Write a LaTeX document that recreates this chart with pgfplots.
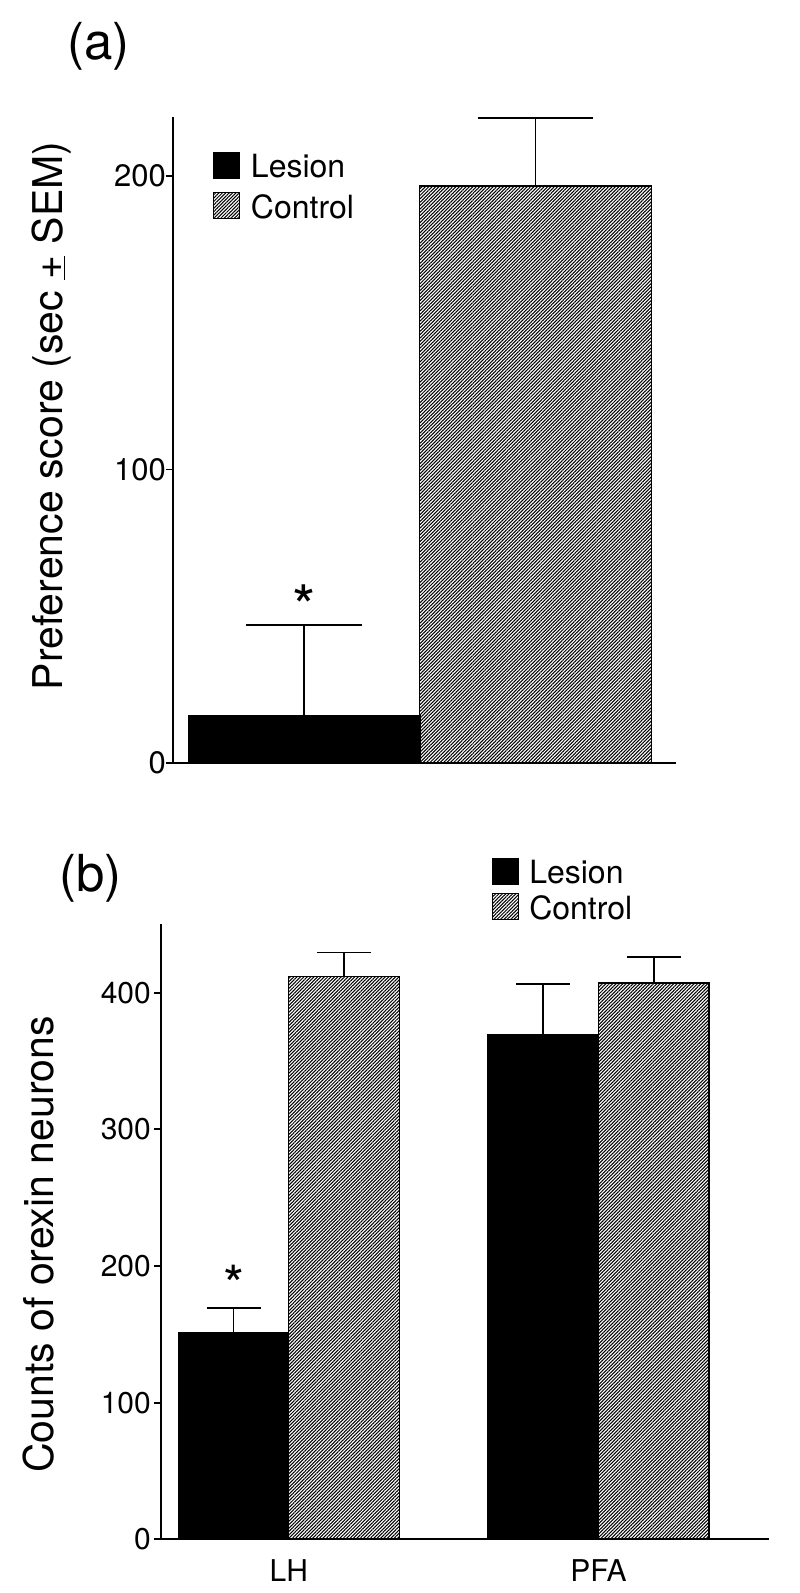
\documentclass[border=0pt]{standalone}
\usepackage{fontspec}
\setmainfont{TeX Gyre Heros}
\usepackage{pgfplots}
\pgfplotsset{compat=1.18}
\usetikzlibrary{patterns.meta}
\pgfplotsset{
  hatch/.style={draw=black, line width=1.3pt, pattern={Lines[angle=45,distance=2.4pt,line width=1.05pt]}, pattern color=black},
  solidbar/.style={draw=black, line width=1.3pt, fill=black},
  sqlegend/.style={legend image code/.code={\draw[##1, line width=1.1pt] (0pt,-12pt) rectangle (26pt,14pt);}},
}
\begin{document}
\begin{tikzpicture}[x=1pt,y=1pt]
\useasboundingbox (0,0) rectangle (800,1593);
\node[anchor=base west, font=\fontsize{51}{60}\selectfont, inner sep=0pt] at (67,1533.5) {(a)};
\node[anchor=base west, font=\fontsize{51}{60}\selectfont, inner sep=0pt] at (59,701) {(b)};

% ---------- panel (a) ----------
\begin{axis}[
  at={(173pt,830pt)}, anchor=south west, scale only axis,
  width=503pt, height=645.7pt,
  xmin=-0.5676, xmax=1.6076, ymin=0, ymax=220,
  clip=false,
  ybar,
  axis x line=bottom, axis y line=left,
  axis line style={-, line width=1.8pt, black},
  xtick=\empty, ytick={0,100,200},
  tick align=outside, major tick length=7pt,
  tick style={line width=1.8pt, black},
  /pgf/number format/assume math mode=true,
  yticklabel style={font=\fontsize{31}{36}\selectfont, inner sep=0pt},
  ylabel={Preference score (sec \underline{+} SEM)},
  ylabel style={at={(rel axis cs:-0.2193,0.5374)}, anchor=base, rotate=0, font=\fontsize{41}{48}\selectfont, inner sep=0pt},
  legend style={at={(0.0789,0.9467)}, anchor=north west, draw=none, fill=none,
    inner sep=0pt, row sep=13.3pt, column sep=11pt,
    font=\fontsize{32}{38}\selectfont, nodes={inner sep=0pt}},
  legend cell align=left,
]
\addplot[solidbar, sqlegend, bar width=231.3pt, bar shift=0pt,
  error bars/.cd, y dir=plus, y explicit,
  error bar style={line width=1.8pt, black},
  error mark options={rotate=90, line width=1.8pt, black, mark size=57.8pt}]
  coordinates {(0,16.1) +- (0,30.9)};
\addplot[hatch, sqlegend, bar width=231.3pt, bar shift=0pt,
  error bars/.cd, y dir=plus, y explicit,
  error bar style={line width=1.8pt, black},
  error mark options={rotate=90, line width=1.8pt, black, mark size=57.8pt}]
  coordinates {(1,196.6) +- (0,23.1)};
\legend{Lesion, Control}
\node[anchor=base, inner sep=0pt, font=\fontsize{60}{66}\selectfont] at (axis cs:0,56.6) {\raisebox{-0.53em}{*}};
\end{axis}

% ---------- panel (b) ----------
\begin{axis}[
  at={(161pt,53.7pt)}, anchor=south west, scale only axis,
  width=608pt, height=615pt,
  xmin=-0.4127, xmax=1.5505, ymin=0, ymax=450,
  clip=false,
  ybar,
  axis x line=bottom, axis y line=left,
  axis line style={-, line width=1.8pt, black},
  xtick={0,1}, xticklabels={LH,PFA},
  ytick={0,100,200,300,400},
  tick align=outside, major tick length=7pt,
  tick style={line width=1.8pt, black},
  xtick style={draw=none},
  /pgf/number format/assume math mode=true,
  yticklabel style={font=\fontsize{30}{36}\selectfont, inner sep=0pt, xshift=-3pt},
  xticklabel style={font=\fontsize{30}{36}\selectfont, inner sep=0pt, anchor=north, yshift=-13pt},
  ylabel={Counts of orexin neurons},
  ylabel style={at={(rel axis cs:-0.1771,0.4793)}, anchor=base, rotate=0, font=\fontsize{41}{48}\selectfont, inner sep=0pt},
  legend style={at={(0.5444,1.1078)}, anchor=north west, draw=none, fill=none,
    inner sep=0pt, row sep=8pt, column sep=10pt,
    font=\fontsize{32}{38}\selectfont, nodes={inner sep=0pt}},
  legend cell align=left,
]
\addplot[solidbar, sqlegend, bar width=110.5pt, bar shift=-55.25pt,
  error bars/.cd, y dir=plus, y explicit,
  error bar style={line width=1.8pt, black},
  error mark options={rotate=90, line width=1.8pt, black, mark size=27pt}]
  coordinates {(0,151.4) +- (0,17.6) (1,369.0) +- (0,37.1)};
\addplot[hatch, sqlegend, bar width=110.5pt, bar shift=55.25pt,
  error bars/.cd, y dir=plus, y explicit,
  error bar style={line width=1.8pt, black},
  error mark options={rotate=90, line width=1.8pt, black, mark size=27pt}]
  coordinates {(0,411.7) +- (0,17.6) (1,407.1) +- (0,18.8)};
\legend{Lesion, Control}
\node[anchor=base, inner sep=0pt, xshift=-55.25pt, font=\fontsize{54}{60}\selectfont] at (axis cs:0,192.7) {\raisebox{-0.53em}{*}};
\end{axis}
\end{tikzpicture}
\end{document}
